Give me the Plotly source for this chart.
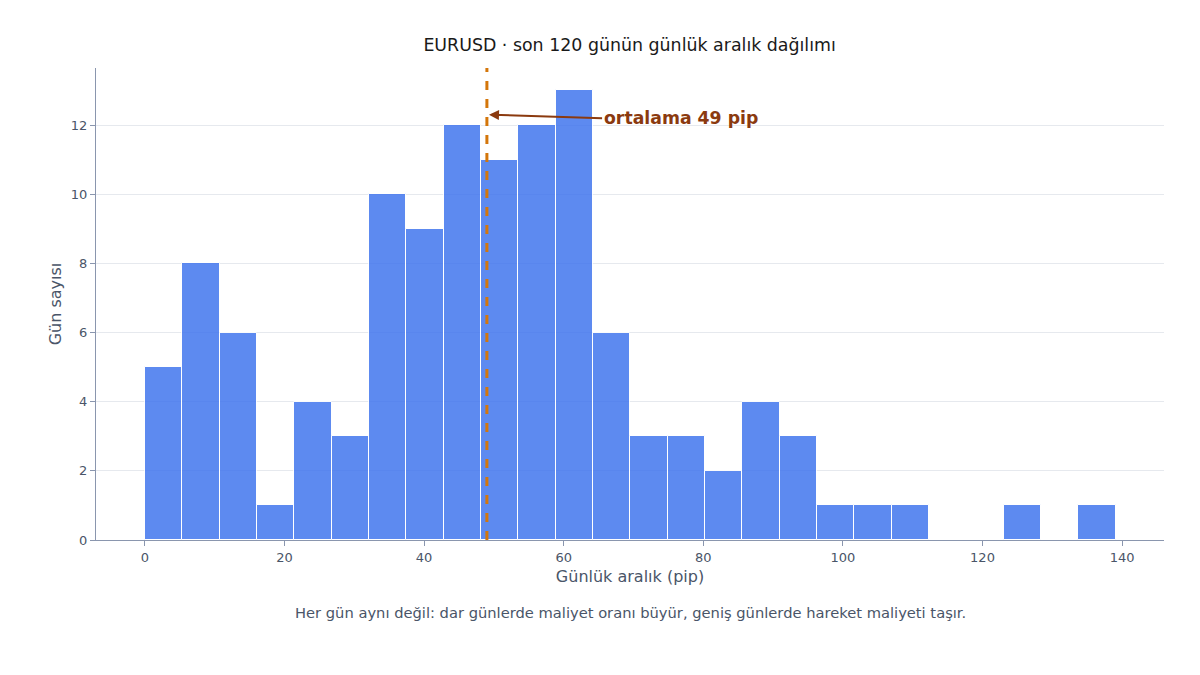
import plotly.graph_objects as go

# Histogram data (bin start, bin width, counts per bin)
bin_start = 0.0
bin_width = 5.35
counts = [5, 8, 6, 1, 4, 3, 10, 9, 12, 11, 12, 13, 6, 3, 3, 2, 4, 3, 1, 1, 1, 0, 0, 1, 0, 1]
mean_pip = 49

centers = [bin_start + bin_width * (i + 0.5) for i in range(len(counts))]

fig = go.Figure()
fig.add_trace(go.Bar(
    x=centers, y=counts, width=[bin_width] * len(counts),
    marker=dict(color="#3D73EE", opacity=0.83, line=dict(color="white", width=1)),
    hovertemplate="%{x:.1f} pip: %{y} gün<extra></extra>",
))

fig.add_shape(type="line", x0=mean_pip, x1=mean_pip, y0=0, y1=1, yref="paper",
              line=dict(color="#D4760A", width=3, dash="dash"))

fig.add_annotation(
    x=mean_pip + 0.3, y=12.3, ax=65.5, ay=12.2, axref="x", ayref="y",
    text="<b>ortalama 49 pip</b>", showarrow=True, arrowhead=2, arrowsize=1,
    arrowwidth=2, arrowcolor="#8B3A0F", xanchor="left",
    font=dict(size=17.3, color="#8B3A0F"),
)

fig.add_annotation(
    x=0.5, y=-0.132, xref="paper", yref="paper", showarrow=False,
    text="Her gün aynı değil: dar günlerde maliyet oranı büyür, geniş günlerde hareket maliyeti taşır.",
    font=dict(size=14.7, color="#4A5568"), yanchor="top",
)

fig.update_layout(
    width=1200, height=675,
    title=dict(text="EURUSD · son 120 günün günlük aralık dağılımı", x=0.518, y=0.955,
               font=dict(size=17.4, color="#1a1a1a")),
    font=dict(family="DejaVu Sans", color="#4A5568"),
    plot_bgcolor="white", paper_bgcolor="white",
    margin=dict(l=88, r=44, t=60, b=143),
    showlegend=False, bargap=0,
)
fig.update_xaxes(
    title=dict(text="Günlük aralık (pip)", font=dict(size=16), standoff=7),
    range=[-7, 146], tickvals=[0, 20, 40, 60, 80, 100, 120, 140],
    showgrid=False, showline=True, linecolor="#8A96AE", ticks="outside",
    tickcolor="#8A96AE", ticklen=5, tickfont=dict(size=13), zeroline=False,
)
fig.update_yaxes(
    title=dict(text="Gün sayısı", font=dict(size=16), standoff=5),
    range=[0, 13.65], dtick=2,
    showgrid=True, gridcolor="#E6E9EE", showline=True, linecolor="#8A96AE",
    ticks="outside", tickcolor="#8A96AE", ticklen=5, tickfont=dict(size=13),
    zeroline=False,
)

fig.write_html("out.html")
